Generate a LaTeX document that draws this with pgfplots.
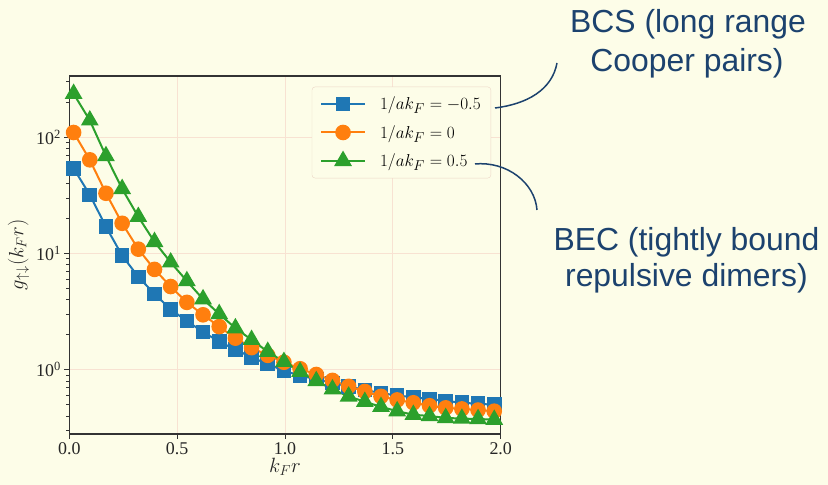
\documentclass[border=0pt]{standalone}
\usepackage{fontspec}
\setmainfont{Liberation Serif}
\newfontfamily\annfont{Liberation Sans}
\usepackage{pgfplots}
\pgfplotsset{compat=1.18}
\definecolor{bg}{RGB}{253,253,232}
\definecolor{tblue}{HTML}{1F77B4}
\definecolor{torange}{HTML}{FF7F0E}
\definecolor{tgreen}{HTML}{2CA02C}
\definecolor{navy}{RGB}{28,66,110}
\definecolor{gridc}{RGB}{248,226,210}
\definecolor{legc}{RGB}{236,214,198}

\pgfplotstableread{
x y
0.02 54
0.095 32
0.17 17
0.245 9.6
0.32 6.3
0.395 4.5
0.47 3.3
0.545 2.63
0.62 2.11
0.695 1.75
0.77 1.49
0.845 1.28
0.92 1.12
0.995 0.98
1.07 0.89
1.145 0.83
1.22 0.77
1.295 0.72
1.37 0.67
1.445 0.63
1.52 0.60
1.595 0.58
1.67 0.56
1.745 0.54
1.82 0.52
1.895 0.51
1.97 0.50
}\bcs

\pgfplotstableread{
x y
0.02 110
0.095 64
0.17 33
0.245 18.2
0.32 10.9
0.395 7.3
0.47 5.2
0.545 3.8
0.62 2.97
0.695 2.35
0.77 1.87
0.845 1.55
0.92 1.33
0.995 1.16
1.07 1.02
1.145 0.91
1.22 0.81
1.295 0.72
1.37 0.65
1.445 0.59
1.52 0.55
1.595 0.52
1.67 0.49
1.745 0.47
1.82 0.46
1.895 0.45
1.97 0.44
}\uni

\pgfplotstableread{
x y
0.02 237
0.095 140
0.17 69
0.245 36
0.32 20.7
0.395 12.6
0.47 8.4
0.545 5.8
0.62 4.05
0.695 3.02
0.77 2.28
0.845 1.81
0.92 1.43
0.995 1.17
1.07 0.96
1.145 0.80
1.22 0.68
1.295 0.59
1.37 0.53
1.445 0.48
1.52 0.44
1.595 0.41
1.67 0.40
1.745 0.385
1.82 0.38
1.895 0.377
1.97 0.372
}\bec

\begin{document}
\begin{tikzpicture}[x=1bp,y=1bp]
\fill[bg] (0,0) rectangle (828,485);
\useasboundingbox (0,0) rectangle (828,485);
\begin{axis}[
  at={(69.3bp,51bp)}, anchor=south west,
  scale only axis, width=431.4bp, height=358bp,
  xmin=0, xmax=2, ymode=log, ymin=0.28, ymax=337,
  xtick={0,0.5,1,1.5,2}, xticklabels={0.0,0.5,1.0,1.5,2.0},
  ytick={1,10,100}, yticklabels={10\textsuperscript{0},10\textsuperscript{1},10\textsuperscript{2}},
  minor ytick={0.3,0.4,0.5,0.6,0.7,0.8,0.9,2,3,4,5,6,7,8,9,20,30,40,50,60,70,80,90,200,300},
  tick label style={font=\fontsize{18}{21}\selectfont, black!85},
  tick align=outside, tick pos=left,
  major tick length=5bp, minor tick length=3bp,
  tick style={black!80, line width=0.9bp},
  axis line style={black!80, line width=1.2bp},
  grid=major, major grid style={gridc, line width=0.8bp},
  axis background/.style={fill=bg},
  xlabel={$k_F r$}, ylabel={$g_{\uparrow\downarrow}(k_F r)$},
  label style={font=\fontsize{20}{24}\selectfont, black!85},
  xlabel style={yshift=3bp},
  legend style={at={(0.9775,0.97)}, anchor=north east, draw=legc, rounded corners=3bp,
    fill=bg, font=\fontsize{19}{22}\selectfont, row sep=10bp, inner xsep=8bp, inner ysep=8bp},
  legend cell align=left,
  legend image code/.code={\draw[mark repeat=2,mark phase=2] plot coordinates {(0bp,0bp) (22bp,0bp) (44bp,0bp)};\path (56bp,0bp);},
]
\addplot[tblue, line width=2bp, mark=square*, mark size=6.3bp, mark options={solid}] table {\bcs};
\addlegendentry{$1/ak_F=-0.5$}
\addplot[torange, line width=2bp, mark=*, mark size=6.8bp, mark options={solid}] table {\uni};
\addlegendentry{$1/ak_F=0$}
\addplot[tgreen, line width=2bp, mark=triangle*, mark size=8.3bp, mark options={solid}] table {\bec};
\addlegendentry{$1/ak_F=0.5$}
\end{axis}
\draw[navy, line width=1.5bp] (495,377) .. controls (527,381) and (552,395) .. (557,422);
\draw[navy, line width=1.5bp] (475,321) .. controls (507,324) and (535,302) .. (537,275);
\node[navy, font=\annfont\fontsize{32}{38}\selectfont, anchor=base] at (688,452) {BCS (long range};
\node[navy, font=\annfont\fontsize{32}{38}\selectfont, anchor=base] at (687,413) {Cooper pairs)};
\node[navy, font=\annfont\fontsize{32}{38}\selectfont, anchor=base] at (686.5,234.3) {BEC (tightly bound};
\node[navy, font=\annfont\fontsize{32}{38}\selectfont, anchor=base] at (686.5,198) {repulsive dimers)};
\end{tikzpicture}
\end{document}
